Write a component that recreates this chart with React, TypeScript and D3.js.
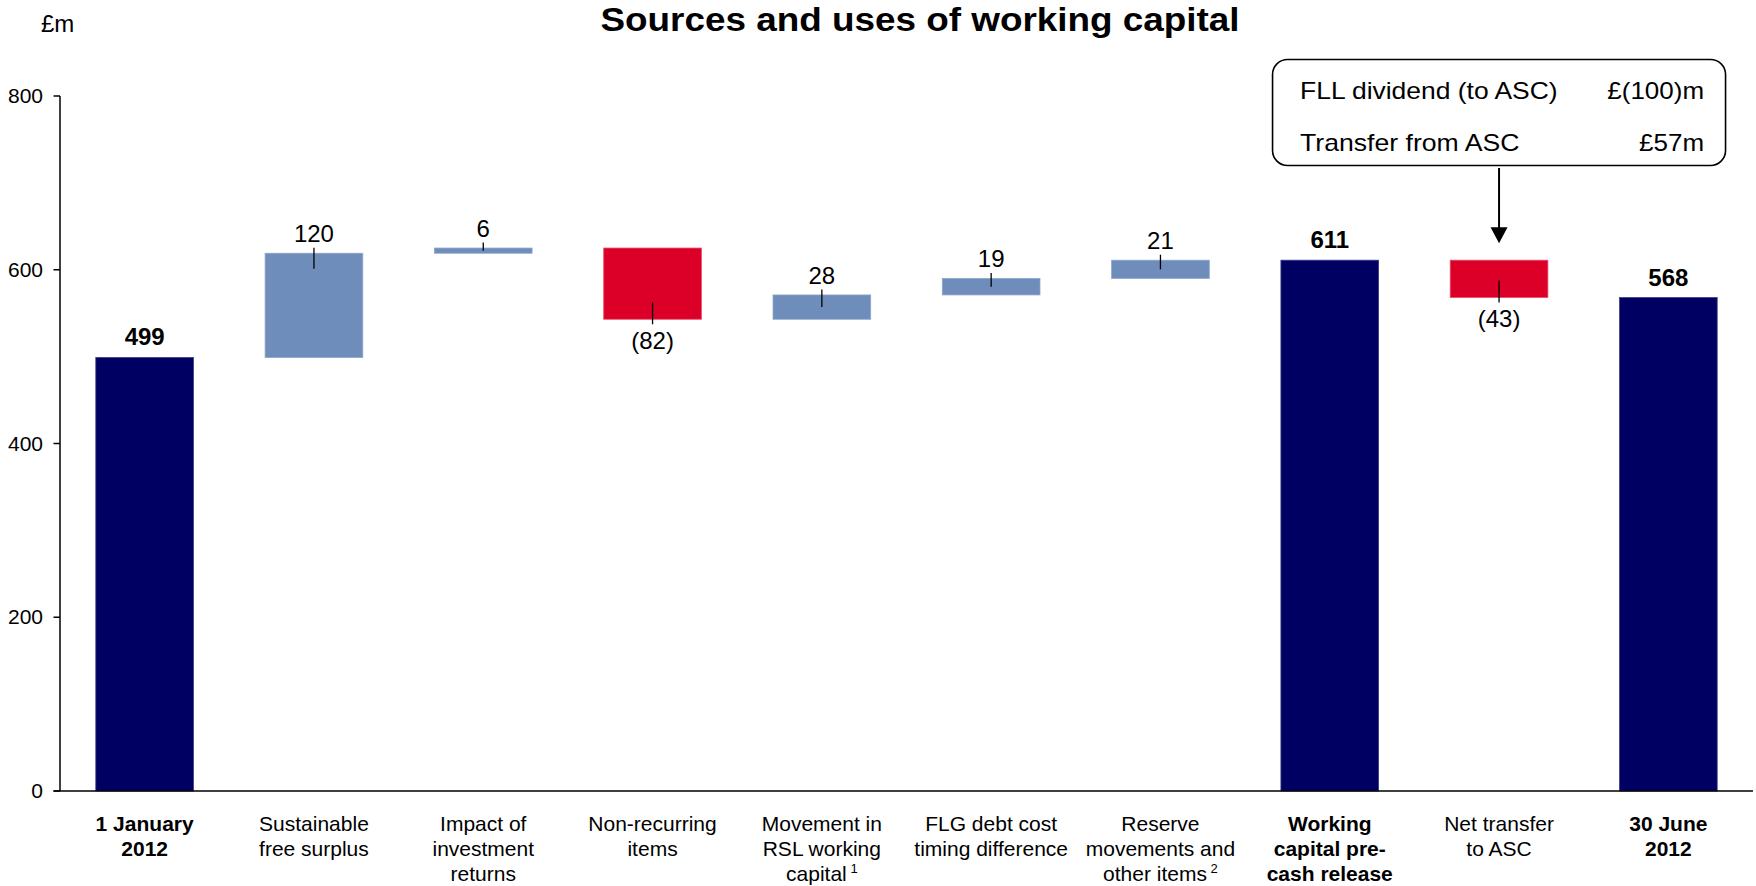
import React from "react";
import * as d3 from "d3";

const categories: string[][] = [
  ["1 January", "2012"],
  ["Sustainable", "free surplus"],
  ["Impact of", "investment", "returns"],
  ["Non-recurring", "items"],
  ["Movement in", "RSL working", "capital"],
  ["FLG debt cost", "timing difference"],
  ["Reserve", "movements and", "other items"],
  ["Working", "capital pre-", "cash release"],
  ["Net transfer", "to ASC"],
  ["30 June", "2012"],
];
const footnotes: string[] = ["", "", "", "", "1", "", "2", "", "", ""];
const values: number[] = [499, 120, 6, -82, 28, 19, 21, 611, -43, 568];
const isTotal: boolean[] = [true, false, false, false, false, false, false, true, false, true];
const valueLabels: string[] = ["499", "120", "6", "(82)", "28", "19", "21", "611", "(43)", "568"];
const yTicks: number[] = [0, 200, 400, 600, 800];
const calloutRows: string[][] = [
  ["FLL dividend (to ASC)", "£(100)m"],
  ["Transfer from ASC", "£57m"],
];
const calloutCategory = 8;

const W = 1756;
const H = 886;
const FONT = "'Liberation Sans', Arial, Helvetica, sans-serif";
const NAVY = "#000062";
const BLUE = "#6f8dba";
const RED = "#dc0029";

export default function App() {
  const x = d3
    .scaleBand<number>()
    .domain(d3.range(values.length))
    .range([60, 1753])
    .paddingInner(0.423)
    .paddingOuter(0.2115);
  const y = d3.scaleLinear().domain([0, 800]).range([791, 96]);

  // waterfall geometry
  let running = 0;
  const bars = values.map((v, i) => {
    let lo: number, hi: number;
    if (isTotal[i]) {
      lo = 0;
      hi = v;
      running = v;
    } else {
      const start = running;
      running = start + v;
      lo = Math.min(start, running);
      hi = Math.max(start, running);
    }
    return { i, v, lo, hi, total: isTotal[i] };
  });

  const cx = (i: number) => (x(i) as number) + x.bandwidth() / 2;
  const calloutX = cx(calloutCategory);
  const calloutBar = bars[calloutCategory];
  const boxW = 453;
  const boxL = calloutX - boxW / 2;
  const boxR = calloutX + boxW / 2;
  const boxTop = 59.5;
  const boxBottom = 165.5;
  const arrowTipY = y(calloutBar.hi) - 17;

  return (
    <svg
      width={W}
      height={H}
      style={{ position: "absolute", left: 0, top: 0, background: "#fff" }}
      fontFamily={FONT}
    >
      <rect x={0} y={0} width={W} height={H} fill="#fff" />
      {/* title */}
      <text
        x={920}
        y={31}
        textAnchor="middle"
        fontSize={33}
        fontWeight="bold"
        textLength={639}
        lengthAdjust="spacingAndGlyphs"
      >
        Sources and uses of working capital
      </text>
      <text x={41} y={32} fontSize={24}>
        £m
      </text>

      {/* bars */}
      {bars.map((b) => {
        const fill = b.total ? NAVY : b.v < 0 ? RED : BLUE;
        const stroke = b.total ? "#3c3c86" : b.v < 0 ? "#e8506a" : "#8ea6cb";
        return (
          <rect
            key={"bar" + b.i}
            x={x(b.i) as number}
            y={y(b.hi)}
            width={x.bandwidth()}
            height={Math.max(1, y(b.lo) - y(b.hi))}
            fill={fill}
            stroke={stroke}
            strokeWidth={0.8}
          />
        );
      })}

      {/* leader lines & value labels */}
      {bars.map((b) => {
        const c = cx(b.i);
        if (b.total) {
          return (
            <text
              key={"lbl" + b.i}
              x={c}
              y={y(b.hi) - 12}
              textAnchor="middle"
              fontSize={24}
              fontWeight="bold"
            >
              {valueLabels[b.i]}
            </text>
          );
        }
        const top = y(b.hi);
        const bot = y(b.lo);
        const mid = (top + bot) / 2;
        if (b.v >= 0) {
          const y1 = top - 5.5;
          const y2 = Math.min(mid, y1 + 21);
          return (
            <g key={"lbl" + b.i}>
              <line x1={c} x2={c} y1={y1} y2={y2} stroke="#000" strokeWidth={1.3} />
              <text x={c} y={top - 11} textAnchor="middle" fontSize={24}>
                {valueLabels[b.i]}
              </text>
            </g>
          );
        }
        const y1 = bot + 5;
        const y2 = Math.max(mid, y1 - 22);
        return (
          <g key={"lbl" + b.i}>
            <line x1={c} x2={c} y1={y1} y2={y2} stroke="#000" strokeWidth={1.3} />
            <text x={c} y={bot + 29.5} textAnchor="middle" fontSize={24}>
              {valueLabels[b.i]}
            </text>
          </g>
        );
      })}

      {/* axes */}
      <line x1={60} x2={60} y1={y(800)} y2={y(0)} stroke="#000" strokeWidth={1.5} />
      <line x1={53.5} x2={1753} y1={y(0)} y2={y(0)} stroke="#000" strokeWidth={1.5} />
      {yTicks.map((t) => (
        <g key={"t" + t}>
          <line x1={53.5} x2={60} y1={y(t)} y2={y(t)} stroke="#000" strokeWidth={1.5} />
          <text x={43} y={y(t) + 7} textAnchor="end" fontSize={21}>
            {t}
          </text>
        </g>
      ))}

      {/* category labels */}
      {categories.map((lines, i) => (
        <text
          key={"cat" + i}
          x={cx(i)}
          y={831}
          textAnchor="middle"
          fontSize={21}
          fontWeight={isTotal[i] ? "bold" : "normal"}
        >
          {lines.map((ln, j) => (
            <tspan key={j} x={cx(i)} y={831 + j * 25}>
              {ln}
              {j === lines.length - 1 && footnotes[i] ? (
                <tspan fontSize={13} dy={-8}>
                  {"\u00a0" + footnotes[i]}
                </tspan>
              ) : null}
            </tspan>
          ))}
        </text>
      ))}

      {/* callout */}
      <rect
        x={boxL}
        y={boxTop}
        width={boxW}
        height={boxBottom - boxTop}
        rx={15}
        ry={15}
        fill="#fff"
        stroke="#000"
        strokeWidth={1.6}
      />
      {calloutRows.map((row, r) => (
        <g key={"cr" + r}>
          <text
            x={boxL + 27.5}
            y={98.5 + r * 52}
            fontSize={24}
            textLength={r === 0 ? 257.6 : 219.3}
            lengthAdjust="spacingAndGlyphs"
          >
            {row[0]}
          </text>
          <text
            x={boxR - 21.5}
            y={98.5 + r * 52}
            fontSize={24}
            textAnchor="end"
            textLength={r === 0 ? 96.7 : 65}
            lengthAdjust="spacingAndGlyphs"
          >
            {row[1]}
          </text>
        </g>
      ))}
      <line
        x1={calloutX}
        x2={calloutX}
        y1={boxBottom + 2.5}
        y2={arrowTipY - 14}
        stroke="#000"
        strokeWidth={2}
      />
      <path
        d={`M${calloutX - 8.5},${arrowTipY - 16} L${calloutX + 8.5},${arrowTipY - 16} L${calloutX},${arrowTipY} Z`}
        fill="#000"
      />
    </svg>
  );
}
